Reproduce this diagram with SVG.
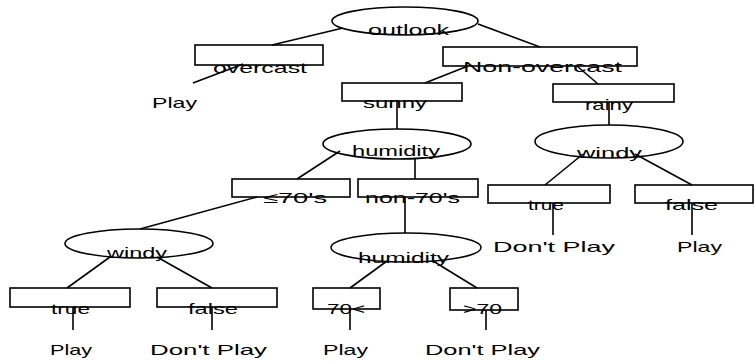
<svg xmlns="http://www.w3.org/2000/svg" width="755" height="364" viewBox="0 0 755 364">
<style>
.n{fill:#fff;stroke:#000;stroke-width:1.6}
.c line{stroke:#000;stroke-width:1.6}
text{font-family:"Liberation Sans",Arial,sans-serif;font-size:15px;fill:#000}
</style>
<rect width="755" height="364" fill="#fff"/>
<g id="n-outlook"><ellipse class="n" cx="405" cy="21" rx="73" ry="14"/><text x="368" y="35" textLength="81" lengthAdjust="spacingAndGlyphs">outlook</text></g>
<g id="n-overcast"><rect class="n" x="195" y="45" width="128" height="20"/><text x="213" y="73" textLength="94" lengthAdjust="spacingAndGlyphs">overcast</text></g>
<g id="n-nonovercast"><rect class="n" x="443" y="47" width="194" height="19"/><text x="463" y="72" textLength="159" lengthAdjust="spacingAndGlyphs">Non-overcast</text></g>
<g id="n-sunny"><rect class="n" x="342" y="83" width="120" height="18"/><text x="363" y="108" textLength="64" lengthAdjust="spacingAndGlyphs">sunny</text></g>
<g id="n-rainy"><rect class="n" x="553" y="84" width="121" height="18"/><text x="585" y="110" textLength="48" lengthAdjust="spacingAndGlyphs">rainy</text></g>
<g id="n-play1"><text x="152" y="108" textLength="45" lengthAdjust="spacingAndGlyphs">Play</text></g>
<g id="n-humidity1"><ellipse class="n" cx="397" cy="144" rx="74" ry="15"/><text x="352" y="156" textLength="88" lengthAdjust="spacingAndGlyphs">humidity</text></g>
<g id="n-windy1"><ellipse class="n" cx="609" cy="141.5" rx="74" ry="16.5"/><text x="577" y="158" textLength="65" lengthAdjust="spacingAndGlyphs">windy</text></g>
<g id="n-le70"><rect class="n" x="232" y="179" width="118" height="18"/><text x="263" y="203" textLength="64" lengthAdjust="spacingAndGlyphs">≤70's</text></g>
<g id="n-non70"><rect class="n" x="358" y="179" width="120" height="18"/><text x="365" y="203" textLength="95" lengthAdjust="spacingAndGlyphs">non-70's</text></g>
<g id="n-true1"><rect class="n" x="488" y="185" width="122" height="18"/><text x="528" y="210" textLength="36" lengthAdjust="spacingAndGlyphs">true</text></g>
<g id="n-false1"><rect class="n" x="635" y="185" width="118" height="18"/><text x="665" y="210" textLength="53" lengthAdjust="spacingAndGlyphs">false</text></g>
<g id="n-dontplay1"><text x="493" y="252" textLength="122" lengthAdjust="spacingAndGlyphs">Don't Play</text></g>
<g id="n-play2"><text x="677" y="252" textLength="45" lengthAdjust="spacingAndGlyphs">Play</text></g>
<g id="n-windy2"><ellipse class="n" cx="139" cy="243.5" rx="74" ry="14.5"/><text x="107" y="258" textLength="60" lengthAdjust="spacingAndGlyphs">windy</text></g>
<g id="n-humidity2"><ellipse class="n" cx="406" cy="247.5" rx="75" ry="14.5"/><text x="358" y="263" textLength="91" lengthAdjust="spacingAndGlyphs">humidity</text></g>
<g id="n-true2"><rect class="n" x="10" y="288" width="120" height="19"/><text x="51" y="314" textLength="39" lengthAdjust="spacingAndGlyphs">true</text></g>
<g id="n-false2"><rect class="n" x="157" y="288" width="120" height="19"/><text x="188" y="314" textLength="50" lengthAdjust="spacingAndGlyphs">false</text></g>
<g id="n-70lt"><rect class="n" x="313" y="288" width="67" height="21"/><text x="327" y="314" textLength="38" lengthAdjust="spacingAndGlyphs">70&lt;</text></g>
<g id="n-gt70"><rect class="n" x="450" y="288" width="68" height="22"/><text x="463" y="314" textLength="39" lengthAdjust="spacingAndGlyphs">&gt;70</text></g>
<g id="n-play3"><text x="50" y="355" textLength="42" lengthAdjust="spacingAndGlyphs">Play</text></g>
<g id="n-dontplay2"><text x="150" y="355" textLength="117" lengthAdjust="spacingAndGlyphs">Don't Play</text></g>
<g id="n-play4"><text x="323" y="355" textLength="45" lengthAdjust="spacingAndGlyphs">Play</text></g>
<g id="n-dontplay3"><text x="425" y="355" textLength="115" lengthAdjust="spacingAndGlyphs">Don't Play</text></g>
<g id="connectors" class="c">
<line x1="343" y1="28" x2="272" y2="45"/>
<line x1="478" y1="24" x2="540" y2="47"/>
<line x1="243" y1="64" x2="193" y2="83"/>
<line x1="468" y1="66" x2="425" y2="83"/>
<line x1="577" y1="66" x2="598" y2="84"/>
<line x1="609" y1="102" x2="609" y2="125"/>
<line x1="397" y1="101" x2="397" y2="129"/>
<line x1="583" y1="154" x2="545" y2="185"/>
<line x1="635" y1="154" x2="692" y2="185"/>
<line x1="553" y1="203" x2="553" y2="235"/>
<line x1="692" y1="203" x2="692" y2="235"/>
<line x1="340" y1="151" x2="297" y2="179"/>
<line x1="415" y1="158" x2="415" y2="179"/>
<line x1="257" y1="197" x2="140" y2="229"/>
<line x1="405" y1="197" x2="405" y2="233"/>
<line x1="110" y1="257" x2="67" y2="288"/>
<line x1="157" y1="257" x2="212" y2="288"/>
<line x1="73" y1="307" x2="73" y2="330"/>
<line x1="212" y1="307" x2="212" y2="330"/>
<line x1="387" y1="261" x2="350" y2="288"/>
<line x1="433" y1="261" x2="477" y2="288"/>
<line x1="350" y1="309" x2="350" y2="330"/>
<line x1="486" y1="310" x2="486" y2="330"/>
</g>
</svg>
